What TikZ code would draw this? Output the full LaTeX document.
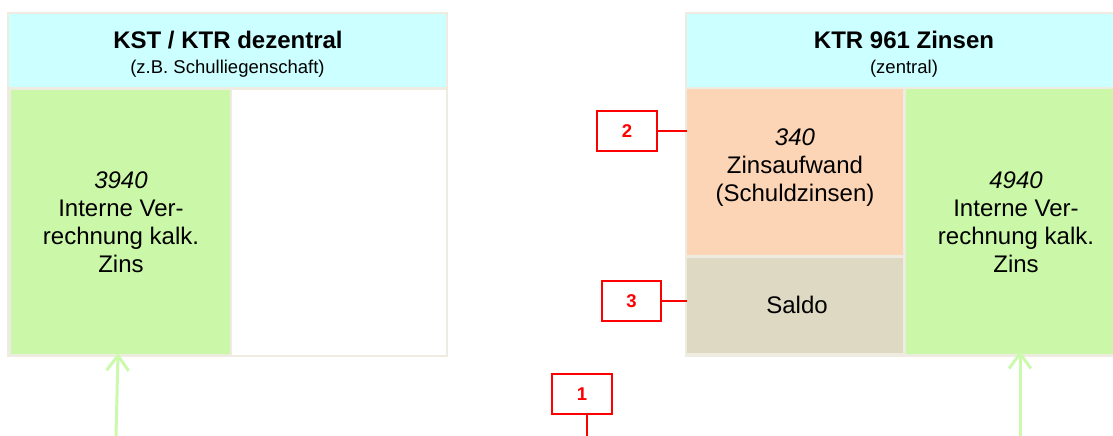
\documentclass[tikz,border=0pt]{standalone}
\usepackage{fontspec}
\setmainfont{Liberation Sans}
\usetikzlibrary{arrows.meta}
\definecolor{cream}{RGB}{238,236,225}
\definecolor{hdrcyan}{RGB}{204,255,255}
\definecolor{accgreen}{RGB}{203,248,168}
\definecolor{peach}{RGB}{251,213,181}
\definecolor{saldotan}{RGB}{221,217,195}
\definecolor{arrowgreen}{RGB}{204,250,172}
\definecolor{markred}{RGB}{255,0,0}
\tikzset{
  area/.style={rectangle, draw=none, inner sep=0pt, outer sep=0pt},
  marker/.style={rectangle, draw=markred, line width=2pt, fill=white, minimum width=60pt, minimum height=40pt,
    inner sep=0pt, text=markred, font=\fontsize{18.5}{22}\selectfont\bfseries},
  markline/.style={draw=markred, line width=2pt},
  flow/.style={draw=arrowgreen, line width=3pt, line cap=round, line join=round,
    -{Straight Barb[length=15pt,width=22pt,line width=3pt]}},
  titletext/.style={anchor=base, inner sep=0pt, font=\fontsize{24}{28}\selectfont\bfseries},
  subtext/.style={anchor=base, inner sep=0pt, font=\fontsize{18.5}{22}\selectfont},
  bodytext/.style={inner sep=0pt, align=center, font=\fontsize{24}{28}\selectfont}
}
\begin{document}
\begin{tikzpicture}[x=1pt,y=-1pt]
\useasboundingbox (0,0) rectangle (1113,436);
% left panel
\node[area, fill=cream, minimum width=441pt, minimum height=345pt] (leftpanel) at (227.5,184.5) {};
\node[area, fill=hdrcyan, minimum width=437pt, minimum height=73pt] (lefthdr) at (227.5,50.5) {};
\node[area, fill=accgreen, minimum width=219pt, minimum height=264pt] (leftacc) at (120.5,222) {};
\node[area, fill=white, minimum width=214pt, minimum height=265pt] (leftempty) at (339,222.5) {};
\node[titletext] (lefttitle) at (228,48.5) {KST / KTR dezentral};
\node[subtext] (leftsub) at (227.5,73.5) {(z.B. Schulliegenschaft)};
\node[bodytext] (lefttext) at (121,222) {\itshape 3940\\Interne Ver-\\rechnung kalk.\\Zins};
% right panel
\node[area, fill=cream, minimum width=430pt, minimum height=345pt] (rightpanel) at (900,184.5) {};
\node[area, fill=hdrcyan, minimum width=428pt, minimum height=73pt] (righthdr) at (901,50.5) {};
\node[area, fill=peach, minimum width=216pt, minimum height=166pt] (zinsauf) at (795,172) {};
\node[area, fill=saldotan, minimum width=216pt, minimum height=95pt] (saldo) at (795,305.5) {};
\node[area, fill=accgreen, minimum width=212pt, minimum height=265pt] (rightacc) at (1012,221.5) {};
\node[titletext] (righttitle) at (904,48.5) {KTR 961 Zinsen};
\node[subtext] (rightsub) at (904,73.5) {(zentral)};
\node[bodytext] (zinstext) at (795,168) {\itshape 340\\Zinsaufwand\\(Schuldzinsen)};
\node[bodytext] (righttext) at (1016,222) {\itshape 4940\\Interne Ver-\\rechnung kalk.\\Zins};
\node[anchor=base, inner sep=0pt, font=\fontsize{24}{28}\selectfont] (saldotext) at (797,313.5) {Saldo};
% markers
\node[marker] (m2) at (627,131) {2};
\node[marker, minimum width=59pt] (m3) at (631.5,301) {3};
\node[marker] (m1) at (582,394) {1};
\draw[markline] (m2.east) -- (zinsauf.west |- m2.east);
\draw[markline] (m3.east) -- (saldo.west |- m3.east);
\coordinate (m1end) at (587,437);
\draw[markline] (m1end |- m1.south) -- (m1end);
% arrows
\coordinate (leftfoot) at (116,437);
\coordinate (rightfoot) at (1020,437);
\draw[flow] (leftfoot) -- ([xshift=-2.5pt,yshift=1pt]leftacc.south);
\draw[flow] (rightfoot) -- ([yshift=3pt]rightfoot |- rightacc.south);
\end{tikzpicture}
\end{document}
